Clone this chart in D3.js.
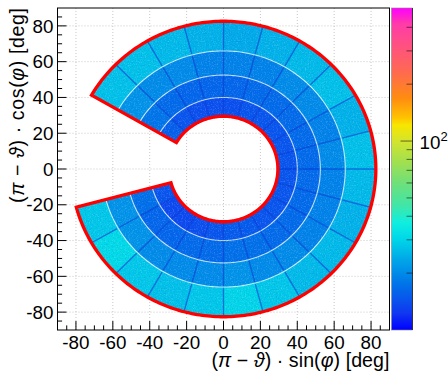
<!DOCTYPE html>
<html><head><meta charset="utf-8">
<script src="https://cdn.jsdelivr.net/npm/d3@7"></script>
<style>
body{margin:0;background:#fff}
svg{display:block;font-family:"Liberation Sans",Arial,Helvetica,sans-serif}
</style></head><body>
<svg id="c" width="448" height="373"></svg>
<script>
// sector edges in phi [deg], clockwise from +y
var phiEdges = [-60,-45,-30,-15,0,15,30,45,60,75,90,105,120,135,150,165,180,195,210,225,240,255];
// ring radii (pi - theta) [deg], inner -> outer
var ringInner = [29.0, 40.3, 52.8, 66.3];
var ringOuter = [39.7, 52.2, 65.7, 82.5];
// mean counts per sector, one list per ring (inner -> outer)
var ring1 = [15.5,14.5,14,14,14,14.5,14.5,14.5,14.5,14.5,14.5,14.5,14.5,14.5,15,15,14.5,14,13.5,13.5,14.5];
var ring2 = [17.5,16.5,16,16,16,16.5,16.5,16.5,16.5,16.5,16.5,16.5,16.5,16.5,17,17,16.5,16.5,16,16,17];
var ring3 = [21,20,20,19,19,19,20,20,19,20,19,19,19,20,20,21,20,20,20,21,21];
var ring4 = [27,27,26,25,24,25,26,27,25,27,26,25,26,26,28,30,28,27,28,31,28];
// acceptance outline
var edgePhi = [-60, 255];
var edgeR = [29.5, 82.6];
// axes
var axisTicks = [-80,-60,-40,-20,0,20,40,60,80];
var zRange = [10, 506];
var zMinor = [20,30,40,50,60,70,80,90,200,300,400];
var zMajor = [100];

// palette (fraction, colour)
var palT = [0,0.053,0.137,0.22,0.284,0.333,0.386,0.458,0.52,0.583,0.636,0.658,0.72,0.80,0.95,1];
var palC = ["#0000ff","#1038f0","#0070e8","#00a8e8","#00d8e8","#10eee0","#40e6a8","#70e078","#a0e050","#d0e430","#f8e600","#ffc400","#ff8c10","#ff6a50","#ff3ca8","#ff00ff"];

var svg = d3.select("#c");
var L = 57.5, R = 389.5, T = 8, B = 330;
var x = d3.scaleLinear().domain([-90,90]).range([L,R]);
var y = d3.scaleLinear().domain([-90,90]).range([B,T]);
var zs = d3.scaleLog().domain(zRange).range([0,1]);
var pal = d3.scaleLinear().domain(palT).range(palC).interpolate(d3.interpolateRgb);
var col = function(v){ return pal(Math.max(0,Math.min(1,zs(v)))); };

var rad = Math.PI/180;
function pt(r, a){ return [x(r*Math.sin(a*rad)), y(r*Math.cos(a*rad))]; }
function arcPts(r, a0, a1){
    var n = Math.max(2, Math.ceil(Math.abs(a1-a0)));
    return d3.range(n+1).map(function(i){ return pt(r, a0+(a1-a0)*i/n); });
}
var line = d3.line();

var defs = svg.append("defs");
// grainy look of the filled bins
var f = defs.append("filter").attr("id","grain").attr("x",0).attr("y",0).attr("width",1).attr("height",1);
f.append("feTurbulence").attr("type","fractalNoise").attr("baseFrequency",0.75).attr("numOctaves",2).attr("seed",4).attr("result","n");
f.append("feColorMatrix").attr("in","n").attr("type","matrix")
    .attr("values","0 0 0 0 1  0 0 0 0 1  0 0 0 0 1  1.6 0 0 0 -0.78");
var f2 = defs.append("filter").attr("id","grain2").attr("x",0).attr("y",0).attr("width",1).attr("height",1);
f2.append("feTurbulence").attr("type","fractalNoise").attr("baseFrequency",0.75).attr("numOctaves",2).attr("seed",11).attr("result","n");
f2.append("feColorMatrix").attr("in","n").attr("type","matrix")
    .attr("values","0 0 0 0 0  0 0 0 0 0.1  0 0 0 0 0.75  1.6 0 0 0 -0.8");

// grid
var grid = svg.append("g").attr("stroke","#c8c8c8").attr("stroke-width",1).attr("stroke-dasharray","1,2");
axisTicks.forEach(function(t){
    grid.append("line").attr("x1",x(t)).attr("x2",x(t)).attr("y1",T).attr("y2",B);
    grid.append("line").attr("y1",y(t)).attr("y2",y(t)).attr("x1",L).attr("x2",R);
});

// cells
var rings = [ring1, ring2, ring3, ring4];
var cells = [];
rings.forEach(function(vals, k){
    vals.forEach(function(v, i){
        cells.push({r0: ringInner[k], r1: ringOuter[k], a0: phiEdges[i], a1: phiEdges[i+1], v: v});
    });
});
function cellPath(d){
    var p = arcPts(d.r1, d.a0, d.a1).concat(arcPts(d.r0, d.a1, d.a0));
    return line(p) + "Z";
}
var clip = defs.append("clipPath").attr("id","cellclip");
clip.selectAll("path").data(cells).enter().append("path").attr("d", cellPath);

svg.append("g").selectAll("path").data(cells).enter().append("path")
    .attr("d", cellPath)
    .attr("fill", function(d){ return col(d.v); })
    .attr("stroke", function(d){ return col(d.v); })
    .attr("stroke-width", 0.3);

var gr = svg.append("g").attr("clip-path","url(#cellclip)");
gr.append("rect").attr("x",L).attr("y",T).attr("width",R-L).attr("height",B-T)
    .attr("filter","url(#grain)").attr("opacity",0.35);
gr.append("rect").attr("x",L).attr("y",T).attr("width",R-L).attr("height",B-T)
    .attr("filter","url(#grain2)").attr("opacity",0.35);

// sector boundaries (lower counts)
var bnd = svg.append("g").attr("stroke","#0030d0").attr("stroke-opacity",0.6).attr("stroke-width",1.3);
rings.forEach(function(vals, k){
    phiEdges.slice(1,-1).forEach(function(a){
        var p0 = pt(ringInner[k]+0.3, a), p1 = pt(ringOuter[k]-0.3, a);
        bnd.append("line").attr("x1",p0[0]).attr("y1",p0[1]).attr("x2",p1[0]).attr("y2",p1[1]);
    });
});

// outline
var op = arcPts(edgeR[1], edgePhi[0], edgePhi[1]).concat(arcPts(edgeR[0], edgePhi[1], edgePhi[0]));
svg.append("path").attr("d", line(op)+"Z").attr("fill","none")
    .attr("stroke","#ff0000").attr("stroke-width",3.3).attr("stroke-linejoin","miter");

// frame + ticks
svg.append("rect").attr("x",L).attr("y",T).attr("width",R-L).attr("height",B-T)
    .attr("fill","none").attr("stroke","#000").attr("stroke-width",1);
var tk = svg.append("g").attr("stroke","#000").attr("stroke-width",1);
d3.range(-85, 90, 5).forEach(function(t){
    var len = (t % 20 === 0) ? 9 : 4.6;
    tk.append("line").attr("x1",x(t)).attr("x2",x(t)).attr("y1",B).attr("y2",B-len);
    tk.append("line").attr("y1",y(t)).attr("y2",y(t)).attr("x1",L).attr("x2",L+len);
});
var fs = 18.8;
svg.append("g").selectAll("text").data(axisTicks).enter().append("text")
    .attr("x", function(d){ return x(d); }).attr("y", 349)
    .attr("text-anchor","middle").attr("font-size",fs).text(function(d){ return d; });
svg.append("g").selectAll("text").data(axisTicks).enter().append("text")
    .attr("x", 53.5).attr("y", function(d){ return y(d)+6.7; })
    .attr("text-anchor","end").attr("font-size",fs).text(function(d){ return d; });

function title(sel, fn){
    sel.append("tspan").text("(");
    sel.append("tspan").attr("font-style","italic").text("\u03C0");
    sel.append("tspan").text(" \u2212 ");
    sel.append("tspan").attr("font-style","italic").text("\u03D1");
    sel.append("tspan").text(") \u00B7 " + fn + "(");
    sel.append("tspan").attr("font-style","italic").text("\u03C6");
    sel.append("tspan").text(") [deg]");
}
var xt = svg.append("text").attr("x",R).attr("y",367).attr("text-anchor","end")
    .attr("font-size",19.6).attr("textLength",178).attr("lengthAdjust","spacing");
title(xt, "sin");
var yt = svg.append("text").attr("transform","translate(24,"+T+") rotate(-90)")
    .attr("text-anchor","end").attr("font-size",19.6).attr("textLength",195).attr("lengthAdjust","spacing");
title(yt, "cos");

// palette
var CL = 391.5, CR = 412.5;
var grad = defs.append("linearGradient").attr("id","pal")
    .attr("x1",0).attr("y1",1).attr("x2",0).attr("y2",0);
palT.forEach(function(t, i){ grad.append("stop").attr("offset",t).attr("stop-color",palC[i]); });
svg.append("rect").attr("x",CL).attr("y",T).attr("width",CR-CL).attr("height",B-T).attr("fill","url(#pal)");
svg.append("rect").attr("x",CL).attr("y",T).attr("width",CR-CL).attr("height",B-T)
    .attr("fill","none").attr("stroke","#888").attr("stroke-width",0.6);
var zy = d3.scaleLog().domain(zRange).range([B,T]);
svg.append("line").attr("x1",CR).attr("x2",CR).attr("y1",T).attr("y2",B).attr("stroke","#333");
var zt = svg.append("g").attr("stroke","#000").attr("stroke-opacity",0.55);
zMinor.forEach(function(v){ zt.append("line").attr("x1",CR).attr("x2",CR-6).attr("y1",zy(v)).attr("y2",zy(v)); });
zMajor.forEach(function(v){ zt.append("line").attr("x1",CR).attr("x2",CR-12).attr("y1",zy(v)).attr("y2",zy(v)); });
zMajor.forEach(function(v){
    var t = svg.append("text").attr("x",419.5).attr("y",zy(v)+8).attr("font-size",fs);
    t.append("tspan").text("10");
    t.append("tspan").attr("font-size",13).attr("dy",-8).text(Math.round(Math.log10(v)));
});
</script>
</body></html>
